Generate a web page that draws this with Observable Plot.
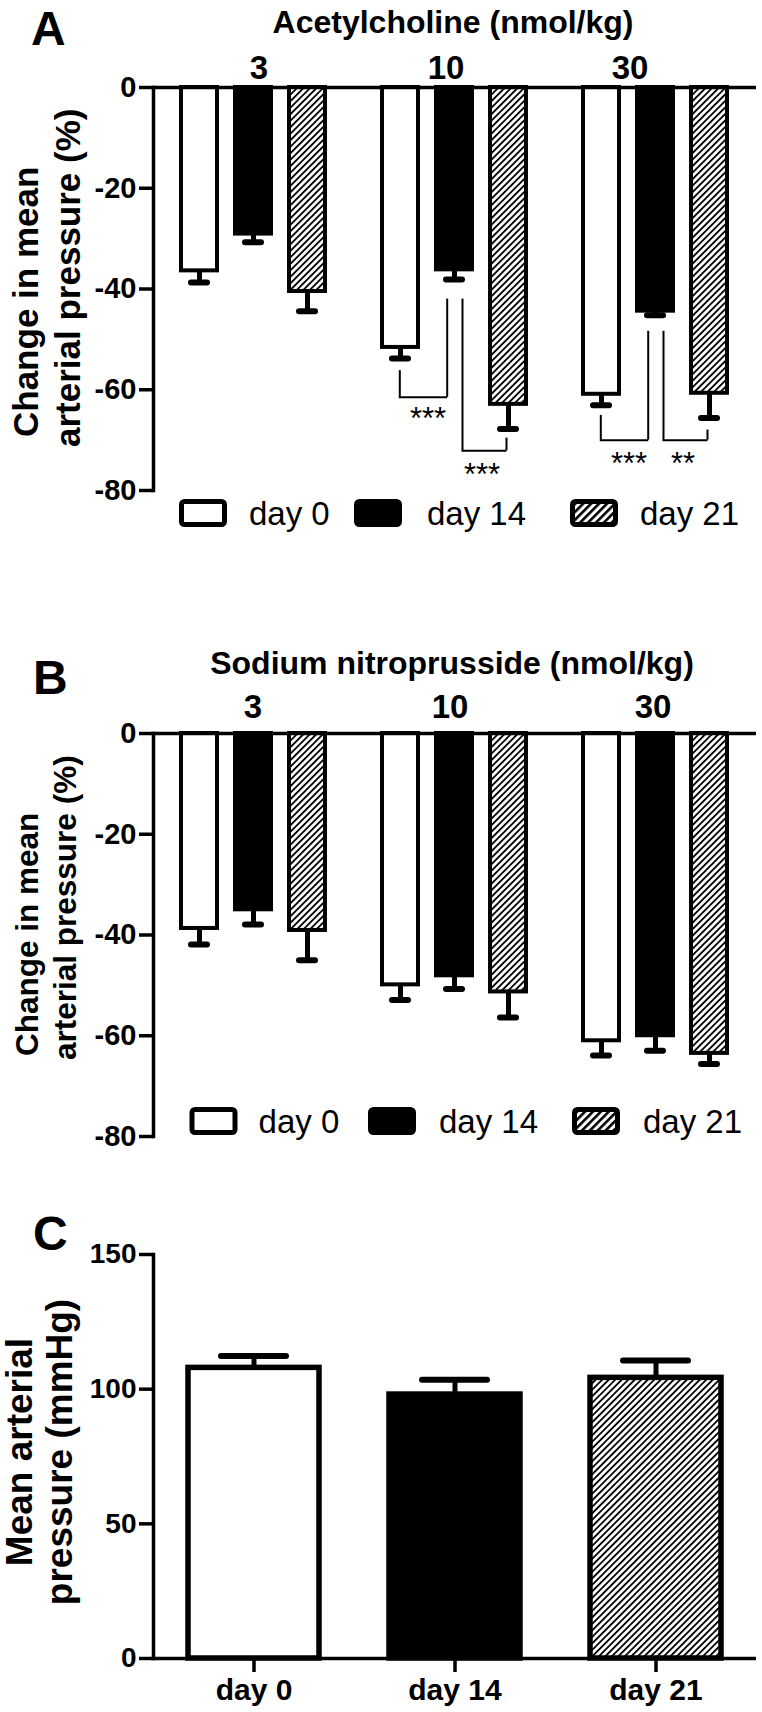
<!DOCTYPE html>
<html><head><meta charset="utf-8">
<script src="https://cdn.jsdelivr.net/npm/d3@7"></script>
<script src="https://cdn.jsdelivr.net/npm/@observablehq/plot@0.6"></script>
<style>
html,body{margin:0;padding:0;background:#fff;}
#fig{position:relative;width:762px;height:1712px;overflow:hidden;background:#fff;}
#fig > svg{position:absolute;left:0;}
</style></head><body>
<svg width="0" height="0" style="position:absolute">
  <defs>
    <pattern id="hatch" patternUnits="userSpaceOnUse" width="4.6" height="4.6" patternTransform="rotate(45)">
      <rect width="4.6" height="4.6" fill="white"/>
      <rect width="1.8" height="4.6" fill="black"/>
    </pattern>
    <pattern id="hatch2" patternUnits="userSpaceOnUse" width="5.6" height="5.6" patternTransform="rotate(45)">
      <rect width="5.6" height="5.6" fill="white"/>
      <rect width="2.6" height="5.6" fill="black"/>
    </pattern>
  </defs>
</svg>
<div id="fig"></div>
<script>
// ---------- data ----------
const doses = ["3", "10", "30"];
const days = ["day 0", "day 14", "day 21"];
const dayFills = ["white", "black", "url(#hatch)"];

// Panel A: acetylcholine, change in mean arterial pressure (%) [dose][day]
const achMean = [[-36.4, -29.1, -40.5], [-51.6, -36.2, -62.9], [-60.9, -44.4, -60.7]];
const achSem  = [[2.3, 1.6, 3.9], [2.2, 1.9, 4.9], [2.2, 0.8, 4.9]];

// Panel B: sodium nitroprusside
const snpMean = [[-38.7, -35.0, -39.1], [-49.9, -48.1, -51.3], [-61.0, -60.0, -63.5]];
const snpSem  = [[3.2, 2.9, 5.9], [3.0, 2.6, 5.1], [2.9, 3.0, 2.1]];

// Panel C: baseline mean arterial pressure (mmHg)
const mapMean = [107.9, 98.0, 104.2];
const mapSem  = [4.4, 5.5, 6.4];

// significance brackets (panel A)
const sigDose     = ["10", "10", "30", "30"];
const sigFrom     = ["day 0", "day 14", "day 0", "day 14"];
const sigTo       = ["day 14", "day 21", "day 14", "day 21"];
const sigLeftTop  = [-56.2, -42.0, -65.1, -48.4];
const sigRightTop = [-42.0, -69.6, -48.4, -68.0];
const sigBottom   = [-61.5, -72.1, -70.0, -70.0];
const sigStarY    = [-64.3, -75.4, -73.1, -73.1];
const sigLabel    = ["***", "***", "***", "**"];

const yTicksAB = [0, -20, -40, -60, -80];
const yTicksC = [0, 50, 100, 150];

const panelLetters = ["A", "B", "C"];
const panelTitles = ["Acetylcholine (nmol/kg)", "Sodium nitroprusside (nmol/kg)"];
const yLabelAB = ["Change in mean", "arterial pressure (%)"];
const yLabelC = ["Mean arterial", "pressure (mmHg)"];

// ---------- layout ----------
const FONT = "'Liberation Sans', Arial, Helvetica, sans-serif";
const W = 762, ML = 153, MR = 6;
const fxStep = (W - ML - MR) / 3;
const xPadIn = 0.327, xPadOut = 0.493;
const xStep = fxStep / (3 - xPadIn + 2 * xPadOut);
const bw = xStep * (1 - xPadIn);

const fig = document.getElementById("fig");

function groupRows(means, sems) {
  return doses.flatMap((dose, i) => days.map((day, j) => ({dose, day, mean: means[i][j], sem: sems[i][j]})));
}
const sigRows = sigDose.map((dose, i) => ({
  dose, from: sigFrom[i], to: sigTo[i], leftTop: sigLeftTop[i], rightTop: sigRightTop[i],
  bottom: sigBottom[i], starY: sigStarY[i], label: sigLabel[i]
}));

function bracketMarks(rows, dxL, dxR) {
  return [
    Plot.ruleX(rows, {fx: "dose", x: "from", y1: "leftTop", y2: "bottom", dx: dxL, strokeWidth: 2}),
    Plot.ruleX(rows, {fx: "dose", x: "to", y1: "rightTop", y2: "bottom", dx: dxR, strokeWidth: 2}),
    Plot.ruleY(rows, {fx: "dose", x1: "from", x2: "to", y: "bottom",
      insetLeft: bw / 2 + dxL - 1, insetRight: bw / 2 - dxR - 1, strokeWidth: 2})
  ];
}

function groupedPanel(means, sems, top, fxPad, labelDx, withSig) {
  const rows = groupRows(means, sems);
  const marks = [
    Plot.barY(rows, {fx: "dose", x: "day", y1: 0, y2: "mean", fill: "day", stroke: "black", strokeWidth: 4}),
    Plot.ruleX(rows, {fx: "dose", x: "day", y1: "mean", y2: d => d.mean - d.sem, strokeWidth: 5}),
    Plot.tickY(rows, {fx: "dose", x: "day", y: d => d.mean - d.sem, strokeWidth: 6, strokeLinecap: "round", inset: 10}),
    Plot.ruleY([0], {strokeWidth: 3.5}),
    Plot.frame({anchor: "left", facetAnchor: "left", strokeWidth: 3.5}),
    Plot.axisY(yTicksAB, {tickSize: 14, tickPadding: 3, strokeWidth: 3.5, fontSize: 29, tickFormat: d => String(d), label: null}),
    // dose labels above each group
    ...doses.map((dose, i) => Plot.text([dose], {fx: d => d, text: d => d, frameAnchor: "top", lineAnchor: "bottom",
      dx: labelDx[i], dy: -fxPad, fontSize: 33, fontWeight: "bold"}))
  ];
  if (withSig) {
    marks.push(...bracketMarks(sigRows.filter(d => d.from === days[0]), -0.7, -7.3));
    marks.push(...bracketMarks(sigRows.filter(d => d.from === days[1]), 8, -2));
    marks.push(Plot.text(sigRows, {fx: "dose", x: "from", y: "starY", text: "label", dx: 27.5, dy: 8,
      fontSize: 31, fontWeight: "normal", lineAnchor: "middle"}));
  }
  const el = Plot.plot({
    width: W, height: 500, marginTop: 87, marginBottom: 10, marginLeft: ML, marginRight: MR,
    style: {fontFamily: FONT, fontWeight: "bold", fontSize: "29px", background: "transparent", overflow: "visible", color: "black"},
    fx: {domain: doses, padding: 0, axis: null},
    x: {domain: days, paddingInner: xPadIn, paddingOuter: xPadOut, axis: null},
    y: {domain: [-80, 0]},
    color: {domain: days, range: dayFills},
    marks
  });
  el.style.position = "absolute";
  el.style.top = top + "px";
  el.style.left = "0px";
  fig.appendChild(el);
}

groupedPanel(achMean, achSem, 0, 9, [5, -9, -26], true);
groupedPanel(snpMean, snpSem, 646, 16, [-1, -5, -3], false);

// Panel C
{
  const cRows = days.map((day, j) => ({day, mean: mapMean[j], sem: mapSem[j]}));
  const el = Plot.plot({
    width: W, height: 486, marginTop: 28, marginBottom: 54, marginLeft: ML, marginRight: MR,
    style: {fontFamily: FONT, fontWeight: "bold", fontSize: "28px", background: "transparent", overflow: "visible", color: "black"},
    x: {domain: days, paddingInner: 0.35, paddingOuter: 0.175},
    y: {domain: [0, 150]},
    color: {domain: days, range: dayFills},
    marks: [
      Plot.barY(cRows, {x: "day", y1: 0, y2: "mean", fill: "day", stroke: "black", strokeWidth: 5.5}),
      Plot.ruleX(cRows, {x: "day", y1: "mean", y2: d => d.mean + d.sem, strokeWidth: 5}),
      Plot.tickY(cRows, {x: "day", y: d => d.mean + d.sem, strokeWidth: 6, strokeLinecap: "round", inset: 33}),
      Plot.ruleY([0], {strokeWidth: 3.5}),
      Plot.frame({anchor: "left", strokeWidth: 3.5}),
      Plot.axisY(yTicksC, {tickSize: 14, tickPadding: 3, strokeWidth: 3.5, fontSize: 28, label: null}),
      Plot.axisX({tickSize: 14, tickPadding: 6, strokeWidth: 3.5, fontSize: 30, label: null})
    ]
  });
  el.style.position = "absolute";
  el.style.top = "1226px";
  el.style.left = "0px";
  fig.appendChild(el);
}

// ---------- overlay: panel letters, titles, y labels, legends ----------
const ov = d3.select(fig).append("svg")
  .attr("width", W).attr("height", 1712)
  .style("top", "0px").style("pointer-events", "none")
  .attr("font-family", FONT);

function txt(x, y, s, size, weight, anchor, rotate) {
  ov.append("text")
    .attr("transform", `translate(${x},${y}) rotate(${rotate || 0})`)
    .attr("font-size", size).attr("font-weight", weight || "bold")
    .attr("text-anchor", anchor || "start").attr("fill", "black")
    .text(s);
}

// letters
txt(31, 45, panelLetters[0], 48);
txt(33, 694, panelLetters[1], 48);
txt(33, 1250, panelLetters[2], 48);
// titles
txt(453, 33, panelTitles[0], 32, "bold", "middle");
txt(452, 673.5, panelTitles[1], 32, "bold", "middle");
// y labels
txt(38, 437, yLabelAB[0], 35, "bold", "start", -90);
txt(80, 447, yLabelAB[1], 35, "bold", "start", -90);
txt(38, 1056, yLabelAB[0], 31.5, "bold", "start", -90);
txt(76, 1060, yLabelAB[1], 31.5, "bold", "start", -90);
txt(32, 1452, yLabelC[0], 37, "bold", "middle", -90);
txt(72, 1452, yLabelC[1], 37, "bold", "middle", -90);

function legend(boxXs, top, textXs, baseline) {
  const swatch = ["white", "black", "url(#hatch2)"];
  days.forEach((d, i) => {
    ov.append("rect").attr("x", boxXs[i] + 2.5).attr("y", top + 2.5)
      .attr("width", 43).attr("height", 23).attr("rx", 3)
      .attr("fill", swatch[i]).attr("stroke", "black").attr("stroke-width", 5);
    txt(textXs[i], baseline, d, 33, "normal", "start");
  });
}
legend([179, 354, 570], 499, [249, 427, 640], 525);
legend([189.5, 368, 572], 1107, [258.6, 439, 643], 1133);
</script>
</body></html>
